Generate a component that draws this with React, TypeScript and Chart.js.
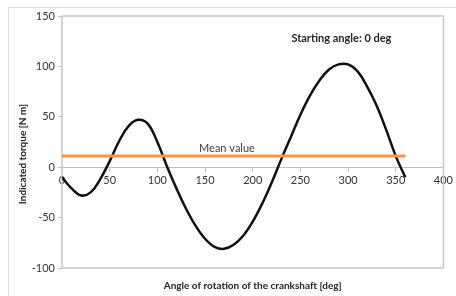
import React, { useEffect, useRef } from "react";
import { Chart, registerables } from "chart.js";

Chart.register(...registerables);

// Crank angle [deg]
const angles = [0, 10, 20, 30, 40, 50, 60, 70, 80, 90, 100, 110, 120, 130, 140, 150, 160, 170, 180, 190, 200, 210, 220, 230, 240, 250, 260, 270, 280, 290, 300, 310, 320, 330, 340, 350, 360];
// Indicated torque [N m]
const torque = [-10, -21, -28, -25, -12, 6, 26, 41, 47, 43, 25, 1, -21, -41, -58, -71, -79, -81, -77, -68, -54, -36, -15, 8, 30, 52, 71, 86, 97, 102, 102, 95, 80, 61, 37, 11, -10];
// Mean value line
const meanAngles = [0, 360];
const meanTorque = [11, 11];

const xMin = 0;
const xMax = 400;
const xStep = 50;
const yMin = -100;
const yMax = 150;
const yStep = 50;

const xTitle = "Angle of rotation of the crankshaft [deg]";
const yTitle = "Indicated torque [N m]";
const noteText = "Starting angle: 0 deg";
const noteAt = [293, 128];
const meanLabel = "Mean value";
const meanLabelAt = [173, 19];

const FONT = "Lato, 'Open Sans', sans-serif";

const textPlugin = {
  id: "extraTexts",
  beforeDatasetsDraw(chart: any) {
    const { ctx, chartArea } = chart;
    ctx.save();
    ctx.strokeStyle = "#c3c7cd";
    ctx.lineWidth = 1.5;
    ctx.strokeRect(chartArea.left, chartArea.top, chartArea.right - chartArea.left, chartArea.bottom - chartArea.top);
    ctx.restore();
  },
  afterDraw(chart: any) {
    const { ctx, chartArea } = chart;
    const x = chart.scales.x;
    const y = chart.scales.y;
    ctx.save();
    ctx.textAlign = "center";
    ctx.textBaseline = "middle";
    ctx.fillStyle = "#262626";
    ctx.font = "bold 11px " + FONT;
    ctx.fillText(noteText, x.getPixelForValue(noteAt[0]), y.getPixelForValue(noteAt[1]));
    ctx.fillStyle = "#404040";
    ctx.font = "11px " + FONT;
    ctx.fillText(meanLabel, x.getPixelForValue(meanLabelAt[0]), y.getPixelForValue(meanLabelAt[1]));
    ctx.translate(23, (chartArea.top + chartArea.bottom) / 2 + 12);
    ctx.rotate(-Math.PI / 2);
    ctx.fillStyle = "#262626";
    ctx.font = "bold 10px " + FONT;
    ctx.fillText(yTitle, 0, 0);
    ctx.restore();
  },
};

export default function App() {
  const ref = useRef<HTMLCanvasElement>(null);

  useEffect(() => {
    if (!ref.current) return;
    const chart = new Chart(ref.current, {
      type: "line",
      data: {
        datasets: [
          {
            label: "Mean value",
            data: meanAngles.map((a, i) => ({ x: a, y: meanTorque[i] })),
            borderColor: "#f79646",
            borderWidth: 3,
            pointRadius: 0,
            fill: false,
          },
          {
            label: "Torque",
            data: angles.map((a, i) => ({ x: a, y: torque[i] })),
            borderColor: "#111111",
            borderWidth: 2.5,
            pointRadius: 0,
            tension: 0.4,
            fill: false,
          },
        ],
      },
      plugins: [textPlugin],
      options: {
        animation: false,
        responsive: false,
        layout: { padding: { left: 0, top: 16, right: 10, bottom: 0 } },
        plugins: {
          legend: { display: false },
          tooltip: { enabled: false },
          title: {
            display: true,
            text: xTitle,
            position: "bottom",
            fullSize: false,
            color: "#262626",
            font: { family: FONT, size: 10, weight: "bold" },
            padding: { top: 12, bottom: 4 },
          },
        },
        scales: {
          x: {
            type: "linear",
            position: { y: 0 },
            min: xMin,
            max: xMax,
            ticks: { stepSize: xStep, color: "#333333", font: { family: FONT, size: 11 }, padding: 3, maxRotation: 0 },
            grid: { display: true, drawOnChartArea: false, tickLength: 4, color: "#c0c0c0" },
            border: { display: true, color: "#c0c0c0" },
          },
          y: {
            type: "linear",
            position: "left",
            min: yMin,
            max: yMax,
            ticks: { stepSize: yStep, color: "#333333", font: { family: FONT, size: 11 }, padding: 3 },
            grid: { display: true, drawOnChartArea: false, tickLength: 4, color: "#c0c0c0" },
            border: { display: false },
            afterFit: (scale: any) => {
              scale.width = 62;
            },
          },
        },
      } as any,
    });
    return () => chart.destroy();
  }, []);

  return (
    <div style={{ position: "fixed", left: 0, top: 0, width: 456, height: 296, background: "#ffffff", overflow: "hidden" }}>
      <div style={{ position: "absolute", left: 8, top: 7, width: 460, height: 300, border: "1px solid #dcdcdc", boxSizing: "border-box" }} />
      <canvas ref={ref} width={456} height={296} style={{ position: "absolute", left: 0, top: 0, width: 456, height: 296 }} />
    </div>
  );
}
